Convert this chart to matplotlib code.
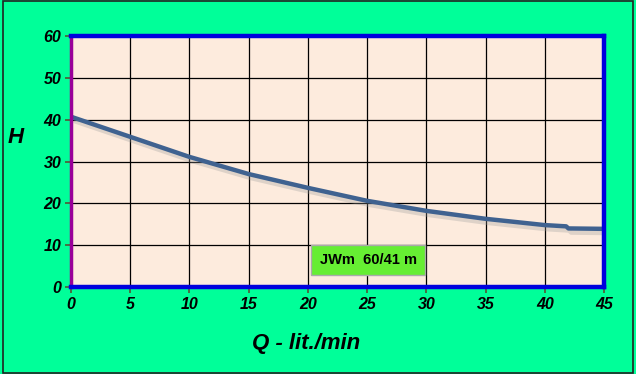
import matplotlib
matplotlib.use("Agg")
import matplotlib.pyplot as plt
import matplotlib.patheffects as pe
from matplotlib.patches import Rectangle

plt.rcParams['font.family'] = ['Liberation Sans', 'DejaVu Sans']

q = [0, 5, 10, 15, 20, 25, 30, 35, 40, 41.8, 42.0, 45]
h = [40.7, 35.9, 31.1, 27.0, 23.7, 20.6, 18.2, 16.3, 14.8, 14.5, 14.0, 13.9]
xticks = [0, 5, 10, 15, 20, 25, 30, 35, 40, 45]
yticks = [0, 10, 20, 30, 40, 50, 60]
label = "JWm  60/41 m"

fig = plt.figure(figsize=(6.36, 3.74), dpi=100)
fig.patch.set_facecolor("#00FF99")
fig.patches.append(Rectangle((0.004, 0.004), 0.992, 0.992, transform=fig.transFigure,
                             fill=False, edgecolor="#222222", linewidth=1.2))

ax = fig.add_axes([71/636, 1-287/374, (604-71)/636, (287-36)/374])
ax.set_facecolor("#FDEBDD")
ax.set_xlim(0, 45)
ax.set_ylim(0, 60)
ax.set_xticks(xticks)
ax.set_yticks(yticks)
ax.grid(True, color="black", linewidth=0.9)
ax.set_axisbelow(True)

for s in ["top", "bottom", "right"]:
    ax.spines[s].set_color("#0000DD")
    ax.spines[s].set_linewidth(3.2)
ax.spines["left"].set_color("#990099")
ax.spines["left"].set_linewidth(2.5)

ax.tick_params(axis="both", direction="out", length=4, width=1.2, color="#555533",
               labelsize=11.5, pad=3)
for t in ax.get_xticklabels() + ax.get_yticklabels():
    t.set_fontweight("bold")
    t.set_fontstyle("italic")

ax.plot(q, h, color="#3F6290", linewidth=3.2, solid_capstyle="butt",
        path_effects=[pe.SimpleLineShadow(offset=(2, -3), shadow_color="#999999", alpha=0.3),
                      pe.Normal()])

fig.text(16/636, 1-138/374, "H", fontsize=16, fontweight="bold", fontstyle="italic",
         ha="center", va="center")
fig.text(306/636, 1-344/374, "Q - lit./min", fontsize=16, fontweight="bold",
         fontstyle="italic", ha="center", va="center")

fig.text(368/636, 1-260/374, label, fontsize=10.5, fontweight="bold", ha="center", va="center",
         bbox=dict(boxstyle="square,pad=0.55", facecolor="#66EE33", edgecolor="#AAAAAA",
                   linewidth=1))

fig.savefig("out.png", dpi=100, facecolor=fig.get_facecolor())
